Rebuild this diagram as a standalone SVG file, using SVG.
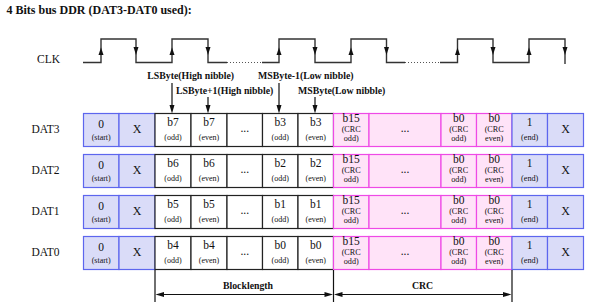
<svg xmlns="http://www.w3.org/2000/svg" width="590" height="307" viewBox="0 0 590 307">
<style>
text{font-family:"Liberation Serif","Times New Roman",serif;fill:#111;text-anchor:middle}
.title{font-size:12px;font-weight:bold;text-anchor:start}
.lbl{font-size:11.5px}
.ann{font-size:9.8px;font-weight:bold;text-anchor:start}
.brk{font-size:9.8px;font-weight:bold}
.big{font-size:11.5px}
.x{font-size:12px}
.sm{font-size:8px}
.crc{font-size:8.2px}
.blue{fill:#dadcf8;stroke:#5d66ee;stroke-width:1.2}
.white{fill:#fff;stroke:#222;stroke-width:1.2}
.pink{fill:#ffe3f8;stroke:#ee4ae6;stroke-width:1.2}
.clk{fill:none;stroke:#333;stroke-width:1.4}
.dot{fill:none;stroke:#555;stroke-width:1;stroke-dasharray:1 2}
.ln{fill:none;stroke:#111;stroke-width:1.2}
.ah{fill:#111}
</style>
<defs>
<g id="cellstart"><rect class="blue" x="83.5" y="0" width="35.5" height="33"/><text class="big" x="101.2" y="14.5">0</text><text class="sm" x="101.2" y="26">(start)</text></g>
<g id="cellx1"><rect class="blue" x="119" y="0" width="36" height="33"/><text class="x" x="137" y="19">X</text></g>
<g id="celldots"><rect class="white" x="227" y="0" width="35.5" height="33"/><text class="big" x="244.7" y="18">...</text></g>
<g id="crcodd"><rect class="pink" x="333.5" y="0" width="35.5" height="33"/><text class="big" x="351.2" y="8.5">b15</text><text class="crc" x="351.2" y="18">(CRC</text><text class="crc" x="351.2" y="27.5">odd)</text></g>
<g id="crcdots"><rect class="pink" x="369" y="0" width="72" height="33"/><text class="big" x="405" y="18">...</text></g>
<g id="crcb0o"><rect class="pink" x="441" y="0" width="35.5" height="33"/><text class="big" x="458.7" y="8.5">b0</text><text class="crc" x="458.7" y="18">(CRC</text><text class="crc" x="458.7" y="27.5">odd)</text></g>
<g id="crcb0e"><rect class="pink" x="476.5" y="0" width="35.5" height="33"/><text class="big" x="494.2" y="8.5">b0</text><text class="crc" x="494.2" y="18">(CRC</text><text class="crc" x="494.2" y="27.5">even)</text></g>
<g id="cellend"><rect class="blue" x="512" y="0" width="35.5" height="33"/><text class="big" x="529.7" y="12.5">1</text><text class="crc" x="529.7" y="26">(end)</text></g>
<g id="cellx2"><rect class="blue" x="547.5" y="0" width="36" height="33"/><text class="x" x="565.5" y="19">X</text></g>
</defs>

<text class="title" x="6.5" y="13.5">4 Bits bus DDR (DAT3-DAT0 used):</text>

<g id="clk">
<text class="lbl" x="48.5" y="63">CLK</text>
<path class="clk" d="M83,62.5 H101 V39 H136 V62.5 H172 V39 H208 V62.5 H227"/>
<path class="dot" d="M227,62.5 H262"/>
<path class="clk" d="M262,62.5 H279 V39 H315 V62.5 H351 V39 H386.5 V62.5 H405"/>
<path class="dot" d="M405,62.5 H440"/>
<path class="clk" d="M440,62.5 H457.5 V39 H493 V62.5 H529 V39 H565 V64"/>
<g class="ah">
<path d="M101,47.5 L98.5,55 L103.5,55 Z"/>
<path d="M172,47.5 L169.5,55 L174.5,55 Z"/>
<path d="M279,47.5 L276.5,55 L281.5,55 Z"/>
<path d="M351,47.5 L348.5,55 L353.5,55 Z"/>
<path d="M457.5,47.5 L455,55 L460,55 Z"/>
<path d="M529,47.5 L526.5,55 L531.5,55 Z"/>
<path d="M136,55 L133.5,47 L138.5,47 Z"/>
<path d="M208,55 L205.5,47 L210.5,47 Z"/>
<path d="M315,55 L312.5,47 L317.5,47 Z"/>
<path d="M386.5,55 L384,47 L389,47 Z"/>
<path d="M493,55 L490.5,47 L495.5,47 Z"/>
<path d="M565,55 L562.5,47 L567.5,47 Z"/>
</g>
</g>

<g id="annotations">
<text class="ann" x="147.3" y="79">LSByte(High nibble)</text>
<text class="ann" x="176" y="94">LSByte+1(High nibble)</text>
<text class="ann" x="258" y="79">MSByte-1(Low nibble)</text>
<text class="ann" x="298" y="94">MSByte(Low nibble)</text>
</g>

<g id="row-dat3" transform="translate(0,113.5)">
<text class="lbl" x="45.5" y="19.5">DAT3</text>
<g id="dat3-start"><use href="#cellstart"/></g>
<g id="dat3-x1"><use href="#cellx1"/></g>
<g id="dat3-b7o"><rect class="white" x="155" y="0" width="36" height="33"/><text class="big" x="173" y="12.5">b7</text><text class="sm" x="173" y="26">(odd)</text></g>
<g id="dat3-b7e"><rect class="white" x="191" y="0" width="36" height="33"/><text class="big" x="209" y="12.5">b7</text><text class="sm" x="209" y="26">(even)</text></g>
<g id="dat3-dots"><use href="#celldots"/></g>
<g id="dat3-b3o"><rect class="white" x="262.5" y="0" width="35.5" height="33"/><text class="big" x="280.2" y="12.5">b3</text><text class="sm" x="280.2" y="26">(odd)</text></g>
<g id="dat3-b3e"><rect class="white" x="298" y="0" width="35.5" height="33"/><text class="big" x="315.7" y="12.5">b3</text><text class="sm" x="315.7" y="26">(even)</text></g>
<g id="dat3-crc15"><use href="#crcodd"/></g>
<g id="dat3-crcdots"><use href="#crcdots"/></g>
<g id="dat3-crc0o"><use href="#crcb0o"/></g>
<g id="dat3-crc0e"><use href="#crcb0e"/></g>
<g id="dat3-end"><use href="#cellend"/></g>
<g id="dat3-x2"><use href="#cellx2"/></g>
</g>

<g id="row-dat2" transform="translate(0,154.5)">
<text class="lbl" x="45.5" y="19.5">DAT2</text>
<g id="dat2-start"><use href="#cellstart"/></g>
<g id="dat2-x1"><use href="#cellx1"/></g>
<g id="dat2-b6o"><rect class="white" x="155" y="0" width="36" height="33"/><text class="big" x="173" y="12.5">b6</text><text class="sm" x="173" y="26">(odd)</text></g>
<g id="dat2-b6e"><rect class="white" x="191" y="0" width="36" height="33"/><text class="big" x="209" y="12.5">b6</text><text class="sm" x="209" y="26">(even)</text></g>
<g id="dat2-dots"><use href="#celldots"/></g>
<g id="dat2-b2o"><rect class="white" x="262.5" y="0" width="35.5" height="33"/><text class="big" x="280.2" y="12.5">b2</text><text class="sm" x="280.2" y="26">(odd)</text></g>
<g id="dat2-b2e"><rect class="white" x="298" y="0" width="35.5" height="33"/><text class="big" x="315.7" y="12.5">b2</text><text class="sm" x="315.7" y="26">(even)</text></g>
<g id="dat2-crc15"><use href="#crcodd"/></g>
<g id="dat2-crcdots"><use href="#crcdots"/></g>
<g id="dat2-crc0o"><use href="#crcb0o"/></g>
<g id="dat2-crc0e"><use href="#crcb0e"/></g>
<g id="dat2-end"><use href="#cellend"/></g>
<g id="dat2-x2"><use href="#cellx2"/></g>
</g>

<g id="row-dat1" transform="translate(0,195.5)">
<text class="lbl" x="45.5" y="19.5">DAT1</text>
<g id="dat1-start"><use href="#cellstart"/></g>
<g id="dat1-x1"><use href="#cellx1"/></g>
<g id="dat1-b5o"><rect class="white" x="155" y="0" width="36" height="33"/><text class="big" x="173" y="12.5">b5</text><text class="sm" x="173" y="26">(odd)</text></g>
<g id="dat1-b5e"><rect class="white" x="191" y="0" width="36" height="33"/><text class="big" x="209" y="12.5">b5</text><text class="sm" x="209" y="26">(even)</text></g>
<g id="dat1-dots"><use href="#celldots"/></g>
<g id="dat1-b1o"><rect class="white" x="262.5" y="0" width="35.5" height="33"/><text class="big" x="280.2" y="12.5">b1</text><text class="sm" x="280.2" y="26">(odd)</text></g>
<g id="dat1-b1e"><rect class="white" x="298" y="0" width="35.5" height="33"/><text class="big" x="315.7" y="12.5">b1</text><text class="sm" x="315.7" y="26">(even)</text></g>
<g id="dat1-crc15"><use href="#crcodd"/></g>
<g id="dat1-crcdots"><use href="#crcdots"/></g>
<g id="dat1-crc0o"><use href="#crcb0o"/></g>
<g id="dat1-crc0e"><use href="#crcb0e"/></g>
<g id="dat1-end"><use href="#cellend"/></g>
<g id="dat1-x2"><use href="#cellx2"/></g>
</g>

<g id="row-dat0" transform="translate(0,236.5)">
<text class="lbl" x="45.5" y="19.5">DAT0</text>
<g id="dat0-start"><use href="#cellstart"/></g>
<g id="dat0-x1"><use href="#cellx1"/></g>
<g id="dat0-b4o"><rect class="white" x="155" y="0" width="36" height="33"/><text class="big" x="173" y="12.5">b4</text><text class="sm" x="173" y="26">(odd)</text></g>
<g id="dat0-b4e"><rect class="white" x="191" y="0" width="36" height="33"/><text class="big" x="209" y="12.5">b4</text><text class="sm" x="209" y="26">(even)</text></g>
<g id="dat0-dots"><use href="#celldots"/></g>
<g id="dat0-b0o"><rect class="white" x="262.5" y="0" width="35.5" height="33"/><text class="big" x="280.2" y="12.5">b0</text><text class="sm" x="280.2" y="26">(odd)</text></g>
<g id="dat0-b0e"><rect class="white" x="298" y="0" width="35.5" height="33"/><text class="big" x="315.7" y="12.5">b0</text><text class="sm" x="315.7" y="26">(even)</text></g>
<g id="dat0-crc15"><use href="#crcodd"/></g>
<g id="dat0-crcdots"><use href="#crcdots"/></g>
<g id="dat0-crc0o"><use href="#crcb0o"/></g>
<g id="dat0-crc0e"><use href="#crcb0e"/></g>
<g id="dat0-end"><use href="#cellend"/></g>
<g id="dat0-x2"><use href="#cellx2"/></g>
</g>

<g id="connectors">
<path class="ln" d="M172,83 V106 M208,97 V106 M279,83 V106 M315,97 V106"/>
<g class="ah">
<path d="M172,113.5 L169.5,105 L174.5,105 Z"/>
<path d="M208,113.5 L205.5,105 L210.5,105 Z"/>
<path d="M279,113.5 L276.5,105 L281.5,105 Z"/>
<path d="M315,113.5 L312.5,105 L317.5,105 Z"/>
</g>
<path class="ln" d="M155,270 V302 M333.5,270 V302 M512,270 V302"/>
<path class="ln" d="M162,294.5 H326.5 M340.5,294.5 H505"/>
<g class="ah">
<path d="M155.5,294.5 L164,292 L164,297 Z"/>
<path d="M333,294.5 L324.5,292 L324.5,297 Z"/>
<path d="M334,294.5 L342.5,292 L342.5,297 Z"/>
<path d="M511.5,294.5 L503,292 L503,297 Z"/>
</g>
<text class="brk" x="248" y="288.5">Blocklength</text>
<text class="brk" x="422.5" y="288.5">CRC</text>
</g>
</svg>
